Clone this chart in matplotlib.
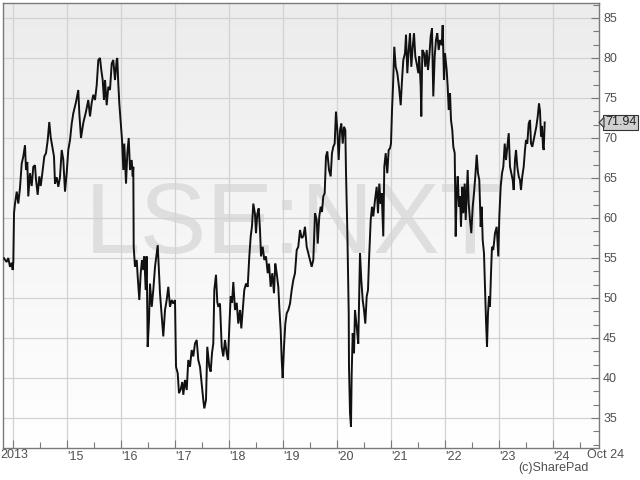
import numpy as np
import matplotlib
matplotlib.use("Agg")
import matplotlib.pyplot as plt
from matplotlib.patches import Polygon
from matplotlib.colors import LinearSegmentedColormap

# ---- data (decimal year, price) ----
dates = [
2013.833,2013.883,2013.913,2013.944,2013.976,2013.994,2014.006,2014.019,2014.037,2014.069,
2014.098,2014.130,2014.161,2014.191,2014.222,2014.241,2014.265,2014.283,2014.315,2014.346,
2014.376,2014.407,2014.426,2014.457,2014.487,2014.513,2014.543,2014.580,2014.611,2014.643,
2014.672,2014.698,2014.728,2014.759,2014.778,2014.809,2014.839,2014.870,2014.902,2014.931,
2014.963,2014.994,2015.024,2015.056,2015.087,2015.117,2015.167,2015.209,2015.228,2015.259,
2015.302,2015.352,2015.394,2015.426,2015.457,2015.487,2015.519,2015.550,2015.580,2015.611,
2015.635,2015.661,2015.685,2015.704,2015.735,2015.765,2015.796,2015.828,2015.857,2015.889,
2015.920,2015.931,2015.950,2015.969,2015.994,2016.019,2016.043,2016.061,2016.093,2016.117,
2016.143,2016.167,2016.198,2016.217,2016.228,2016.235,2016.259,2016.291,2016.309,2016.339,
2016.365,2016.389,2016.413,2016.431,2016.457,2016.476,2016.494,2016.519,2016.537,2016.569,
2016.598,2016.630,2016.661,2016.680,2016.704,2016.722,2016.754,2016.783,2016.815,2016.846,
2016.876,2016.907,2016.939,2016.969,2017.000,2017.019,2017.050,2017.074,2017.106,2017.135,
2017.154,2017.185,2017.217,2017.246,2017.278,2017.309,2017.339,2017.370,2017.402,2017.431,
2017.463,2017.494,2017.524,2017.543,2017.574,2017.598,2017.635,2017.661,2017.685,2017.709,
2017.728,2017.759,2017.783,2017.802,2017.833,2017.865,2017.894,2017.926,2017.957,2017.981,
2018.006,2018.031,2018.056,2018.080,2018.111,2018.143,2018.172,2018.204,2018.228,2018.254,
2018.283,2018.315,2018.346,2018.376,2018.402,2018.426,2018.450,2018.481,2018.500,2018.524,
2018.550,2018.574,2018.593,2018.624,2018.654,2018.685,2018.717,2018.741,2018.772,2018.802,
2018.833,2018.857,2018.883,2018.913,2018.931,2018.957,2018.976,2018.994,2019.019,2019.043,
2019.069,2019.098,2019.130,2019.161,2019.191,2019.222,2019.254,2019.283,2019.315,2019.346,
2019.376,2019.407,2019.439,2019.469,2019.500,2019.531,2019.561,2019.593,2019.624,2019.643,
2019.672,2019.698,2019.722,2019.746,2019.772,2019.796,2019.820,2019.852,2019.883,2019.907,
2019.931,2019.957,2019.981,2020.006,2020.031,2020.056,2020.080,2020.106,2020.130,2020.154,
2020.167,2020.191,2020.204,2020.217,2020.222,2020.241,2020.259,2020.272,2020.291,2020.315,
2020.333,2020.365,2020.394,2020.426,2020.450,2020.476,2020.500,2020.524,2020.550,2020.574,
2020.593,2020.624,2020.648,2020.672,2020.704,2020.735,2020.759,2020.783,2020.809,2020.828,
2020.857,2020.876,2020.902,2020.931,2020.957,2020.981,2021.000,2021.019,2021.037,2021.061,
2021.087,2021.117,2021.148,2021.180,2021.204,2021.228,2021.259,2021.278,2021.302,2021.328,
2021.352,2021.376,2021.402,2021.426,2021.450,2021.476,2021.506,2021.524,2021.550,2021.561,
2021.580,2021.611,2021.635,2021.661,2021.685,2021.709,2021.735,2021.759,2021.783,2021.809,
2021.833,2021.857,2021.883,2021.907,2021.939,2021.957,2021.981,2022.000,2022.031,2022.050,
2022.069,2022.093,2022.111,2022.135,2022.154,2022.180,2022.198,2022.217,2022.235,2022.259,
2022.278,2022.296,2022.320,2022.339,2022.365,2022.383,2022.402,2022.420,2022.439,2022.463,
2022.487,2022.513,2022.537,2022.561,2022.587,2022.611,2022.635,2022.661,2022.680,2022.698,
2022.722,2022.741,2022.759,2022.778,2022.796,2022.815,2022.833,2022.852,2022.870,2022.894,
2022.926,2022.957,2022.987,2023.006,2023.031,2023.056,2023.080,2023.106,2023.130,2023.154,
2023.180,2023.204,2023.228,2023.254,2023.272,2023.296,2023.315,2023.339,2023.365,2023.389,
2023.407,2023.431,2023.457,2023.481,2023.500,2023.524,2023.550,2023.574,2023.593,2023.617,
2023.643,2023.667,2023.691,2023.717,2023.741,2023.759,2023.778,2023.796,2023.815,2023.828,
2023.846,
]
prices = [
54.96,54.5,55.0,53.9,54.4,53.5,54.5,60.6,61.8,63.3,
61.8,63.8,66.8,67.7,69.1,66.0,67.0,62.7,65.6,64.0,
66.4,66.6,64.8,62.9,65.2,64.0,65.6,67.7,68.1,69.75,
72.0,70.1,68.9,67.7,64.3,65.1,63.9,65.1,68.5,67.3,
63.3,65.6,68.5,69.75,71.8,73.1,74.5,76.0,73.1,70.0,
71.9,73.3,74.75,72.7,74.4,75.4,74.75,76.6,79.75,80.0,
78.5,77.25,74.75,77.25,74.1,76.4,76.0,79.3,79.75,77.25,
79.75,80.0,76.8,74.3,72.0,69.75,66.0,69.3,64.3,68.1,
70.0,66.0,67.25,65.2,66.4,56.4,53.9,54.75,52.7,49.75,
53.1,54.75,53.5,55.2,51.0,55.2,43.9,47.25,51.8,48.9,
51.0,53.9,55.6,56.6,53.1,50.6,47.7,45.2,48.5,49.75,
51.4,48.9,49.75,49.3,49.75,41.4,40.6,38.1,38.6,39.5,
37.9,39.75,38.5,42.25,41.4,43.5,42.7,44.3,44.75,42.25,
41.4,39.3,37.25,36.2,37.25,43.9,41.4,40.8,43.1,44.3,
51.0,52.9,49.5,48.9,49.3,43.9,42.7,44.75,43.1,42.25,
46.4,50.2,49.4,52.0,48.5,49.4,46.8,48.5,46.2,48.5,
51.0,51.8,51.4,55.2,57.7,59.0,61.8,60.5,58.1,60.5,
61.2,58.5,55.2,56.4,54.75,55.2,53.1,54.3,51.4,53.1,
50.6,54.3,53.1,51.4,48.9,46.0,42.25,40.0,44.0,46.8,
48.1,48.5,49.3,51.0,52.25,53.1,56.0,56.4,58.5,57.5,
57.7,58.9,56.4,55.6,54.75,53.9,54.75,60.6,59.75,56.8,
60.2,61.4,60.75,62.7,63.1,67.7,68.3,66.0,65.2,68.1,
68.9,69.3,73.3,71.0,67.25,71.0,71.8,69.3,71.4,71.0,
65.6,58.5,53.1,48.1,41.4,35.6,33.9,40.6,45.6,43.1,
48.5,46.4,44.3,55.6,52.25,49.75,48.5,46.8,50.2,51.0,
54.75,59.75,61.4,60.2,62.25,63.9,60.6,64.3,61.8,63.1,
57.7,66.4,68.1,65.6,68.5,68.7,69.3,73.5,76.4,81.4,
78.9,78.1,76.4,74.1,77.25,79.75,80.6,82.9,78.1,81.0,
83.1,78.9,81.4,83.1,80.2,79.3,78.1,80.2,76.4,72.7,
81.0,80.6,78.9,81.0,78.5,80.2,82.7,83.7,75.2,80.2,
82.25,83.1,81.0,82.25,81.6,84.1,77.25,80.6,78.5,76.4,
73.5,75.6,72.25,71.0,68.9,68.1,57.7,63.1,65.2,61.4,
62.7,58.9,63.9,60.6,64.3,59.75,63.1,66.0,61.8,59.75,
58.1,61.4,63.1,65.2,67.9,65.6,64.75,58.9,61.4,57.25,
55.6,51.4,47.25,43.9,48.1,50.2,48.9,53.1,56.4,56.0,
58.1,58.9,55.2,60.2,63.9,65.6,66.4,69.3,67.25,68.9,
70.6,66.4,65.6,64.75,63.5,67.25,68.5,66.4,65.2,64.75,
63.5,65.2,66.4,68.5,69.75,69.3,71.8,72.25,69.3,68.9,
69.75,70.6,71.4,72.7,74.3,73.4,70.2,71.5,68.9,68.5,
71.94,
]
last_price = 71.94
year_ticks = [2014, 2015, 2016, 2017, 2018, 2019, 2020, 2021, 2022, 2023, 2024]
year_labels = ["2013", "'15", "'16", "'17", "'18", "'19", "'20", "'21", "'22", "'23", "'24"]
end_label = "Oct 24"
y_ticks = [35, 40, 45, 50, 55, 60, 65, 70, 75, 80, 85]
watermark = "LSE:NXT"
credit = "(c)SharePad"

FONT = ['Liberation Sans Narrow', 'Liberation Sans', 'DejaVu Sans']
plt.rcParams['font.family'] = FONT
TXT = '#505050'

W, H = 640, 480
fig = plt.figure(figsize=(W / 100, H / 100), dpi=100)
L, R, T, B = 3, 599, 3, 448
ax = fig.add_axes([L / W, 1 - B / H, (R - L) / W, (B - T) / H])

x0 = 2014 + (L - 13) / 54
x1 = 2014 + (R - 13) / 54
y0 = 85 - (B - 18) / 8
y1 = 85 - (T - 18) / 8
ax.set_xlim(x0, x1)
ax.set_ylim(y0, y1)

# gradient background
grad = np.linspace(0, 1, 256).reshape(-1, 1)
cmap = LinearSegmentedColormap.from_list("bg", ["#ffffff", "#ececec"])
ax.imshow(grad, extent=[x0, x1, y0, y1], origin='lower', aspect='auto',
          cmap=cmap, zorder=0, interpolation='bilinear')

# watermark
ax.text(0.487, 0.497, watermark, transform=ax.transAxes, ha='center', va='center',
        fontsize=72, color='#dedede', family=['Liberation Sans', 'DejaVu Sans'], zorder=1)

# grid
for yt in y_ticks:
    ax.axhline(yt, color='#d2d2d2', lw=0.9, zorder=1)
for xt in year_ticks:
    ax.axvline(xt, color='#d2d2d2', lw=0.9, zorder=1)

ax.plot(dates, prices, color='#111111', lw=1.4, zorder=3, solid_joinstyle='miter')

# axes styling
for s in ax.spines.values():
    s.set_color('#7a7a7a')
    s.set_linewidth(1.0)
ax.yaxis.tick_right()
ax.set_yticks(y_ticks)
ax.set_yticklabels([str(v) for v in y_ticks])
ax.set_yticks(np.arange(30, 87.0, 5 / 3), minor=True)
ax.set_xticks(year_ticks)
ax.set_xticklabels([""] + year_labels[1:])
ax.set_xticks([y + 0.5 for y in range(2013, 2025)], minor=True)
ax.tick_params(axis='both', which='major', direction='in', length=6, width=0.8,
               color='#7a7a7a', labelsize=9, labelcolor=TXT)
ax.tick_params(axis='both', which='minor', direction='in', length=4, width=0.8,
               color='#7a7a7a')
ax.tick_params(axis='x', which='major', pad=2)
ax.tick_params(axis='y', which='major', pad=3)
for lab in ax.get_xticklabels():
    lab.set_horizontalalignment('left')
ax.set_ylim(y0, y1)
ax.set_xlim(x0, x1)

# first year label sits at the left edge
fig.text(0 / W, 1 - 455 / H, year_labels[0], ha='left', va='center', fontsize=9, color=TXT)
fig.text(587 / W, 1 - 455 / H, end_label, ha='left', va='center', fontsize=9, color=TXT)
fig.text(589 / W, 1 - 468.5 / H, credit, ha='right', va='center', fontsize=9, color=TXT)

# last price marker
ypix = 18 + (85 - last_price) * 8
fig.text(605 / W, 1 - ypix / H, f"{last_price:.2f}", ha='left', va='center', fontsize=9,
         color='#222222',
         bbox=dict(boxstyle='square,pad=0.15', fc='#d0d0d0', ec='#333333', lw=0.8))
tri = Polygon([[599 / W, 1 - ypix / H], [604 / W, 1 - (ypix - 5) / H],
               [604 / W, 1 - (ypix + 5) / H]], closed=True, transform=fig.transFigure,
              fc='#d0d0d0', ec='#333333', lw=0.8, zorder=5)
fig.patches.append(tri)

fig.savefig("out.png", dpi=100)
